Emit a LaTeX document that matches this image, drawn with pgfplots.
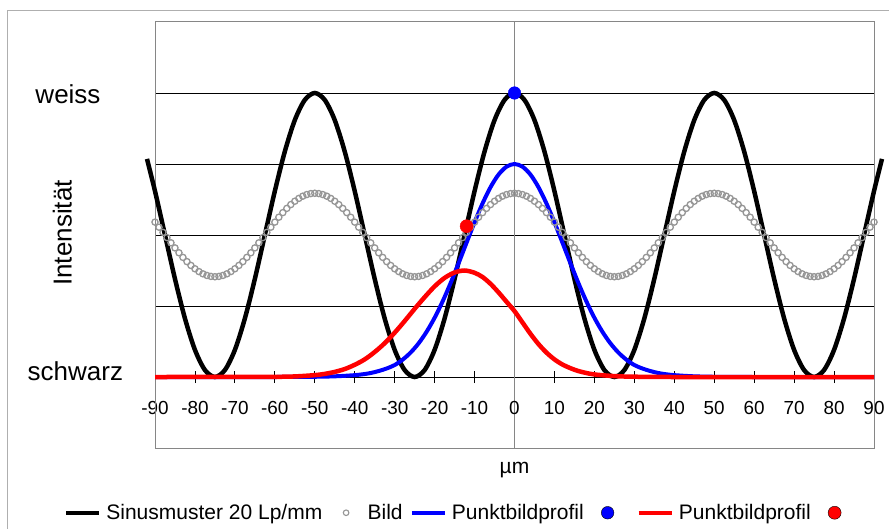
\documentclass[border=0pt]{standalone}
\usepackage{pgfplots}
\pgfplotsset{compat=1.18}
\usepackage{fontspec}
\setmainfont{Liberation Sans}
\definecolor{bildgray}{RGB}{150,150,150}
\definecolor{framegray}{RGB}{134,134,134}
\definecolor{outergray}{RGB}{175,175,175}
\begin{document}
\begin{tikzpicture}
\useasboundingbox (0pt,0pt) rectangle (889pt,528pt);
\fill[white] (0pt,0pt) rectangle (889pt,528pt);
\draw[outergray, line width=1.2pt] (7.5pt,-20pt) rectangle (905pt,517.3pt);
\begin{axis}[
  at={(155pt,80pt)}, anchor=south west,
  scale only axis, width=719pt, height=426pt,
  xmin=-90, xmax=90, ymin=-0.25, ymax=1.25,
  clip=false,
  axis x line=middle, axis y line=middle,
  hide obscured x ticks=false,
  hide obscured y ticks=false,
  x axis line style={black, line width=0.8pt, -},
  y axis line style={framegray, line width=0.9pt, -},
  xtick={-90,-80,-70,-60,-50,-40,-30,-20,-10,0,10,20,30,40,50,60,70,80,90},
  xticklabels={-90,-80,-70,-60,-50,-40,-30,-20,-10,0,10,20,30,40,50,60,70,80,90},
  xticklabel style={font=\fontsize{18.9}{22}\selectfont, inner sep=0pt, anchor=north, yshift=-18pt},
  xtick style={black, line width=0.8pt},
  major tick length=12pt, tick align=center,
  ytick={0.25,0.5,0.75,1},
  yticklabels={},
  ytick style={draw=none},
  ymajorgrids,
  major grid style={black, line width=0.8pt},
  legend columns=6,
  legend style={at={(axis description cs:-0.1270,-0.152)}, anchor=west,
    draw=none, fill=none, inner sep=0pt,
    font=\fontsize{21}{25}\selectfont,
    nodes={inner ysep=2pt, inner xsep=5pt},
    /tikz/every even column/.append style={column sep=2.3pt}},
]
\draw[framegray, line width=1pt] (rel axis cs:0,0) rectangle (rel axis cs:1,1);

% Sinusmuster 20 Lp/mm
\addplot[black, line width=4.5pt, smooth, no markers,
  legend image code/.code={\draw[black, line width=4.5pt] (0pt,0pt) -- (33pt,0pt);}]
coordinates {
(-92,0.7679) (-90,0.6545) (-87.5,0.5) (-85,0.3455) (-82.5,0.2061) (-80,0.0955) (-77.5,0.0245) (-75,0)
(-72.5,0.0245) (-70,0.0955) (-67.5,0.2061) (-65,0.3455) (-62.5,0.5) (-60,0.6545) (-57.5,0.7939) (-55,0.9045) (-52.5,0.9755) (-50,1)
(-47.5,0.9755) (-45,0.9045) (-42.5,0.7939) (-40,0.6545) (-37.5,0.5) (-35,0.3455) (-32.5,0.2061) (-30,0.0955) (-27.5,0.0245) (-25,0)
(-22.5,0.0245) (-20,0.0955) (-17.5,0.2061) (-15,0.3455) (-12.5,0.5) (-10,0.6545) (-7.5,0.7939) (-5,0.9045) (-2.5,0.9755) (0,1)
(2.5,0.9755) (5,0.9045) (7.5,0.7939) (10,0.6545) (12.5,0.5) (15,0.3455) (17.5,0.2061) (20,0.0955) (22.5,0.0245) (25,0)
(27.5,0.0245) (30,0.0955) (32.5,0.2061) (35,0.3455) (37.5,0.5) (40,0.6545) (42.5,0.7939) (45,0.9045) (47.5,0.9755) (50,1)
(52.5,0.9755) (55,0.9045) (57.5,0.7939) (60,0.6545) (62.5,0.5) (65,0.3455) (67.5,0.2061) (70,0.0955) (72.5,0.0245) (75,0)
(77.5,0.0245) (80,0.0955) (82.5,0.2061) (85,0.3455) (87.5,0.5) (90,0.6545) (92,0.7679)
};
\addlegendentry{Sinusmuster 20 Lp/mm}

% Bild
\addplot[only marks, mark=o, mark size=3.1pt, mark options={bildgray, line width=1.3pt},
  legend image code/.code={\path[draw=none, fill=none] (0pt,0pt) -- (33pt,0pt); \path[draw=none, only marks, mark=o, mark size=2.8pt, mark options={draw=bildgray, line width=1.1pt}] plot coordinates {(16.5pt,0pt)};}]
coordinates {
(-90,.5454) (-89,.5275) (-88,.5092) (-87,.4908) (-86,.4725) (-85,.4546) (-84,.4374) (-83,.4212) (-82,.4063) (-81,.3928) (-80,.3811) (-79,.3712) (-78,.3633) (-77,.3576) (-76,.3542) (-75,.353)
(-74,.3542) (-73,.3576) (-72,.3633) (-71,.3712) (-70,.3811) (-69,.3928) (-68,.4063) (-67,.4212) (-66,.4374) (-65,.4546) (-64,.4725) (-63,.4908) (-62,.5092) (-61,.5275) (-60,.5454) (-59,.5626) (-58,.5788) (-57,.5937) (-56,.6072) (-55,.6189) (-54,.6288) (-53,.6367) (-52,.6424) (-51,.6458) (-50,.647)
(-49,.6458) (-48,.6424) (-47,.6367) (-46,.6288) (-45,.6189) (-44,.6072) (-43,.5937) (-42,.5788) (-41,.5626) (-40,.5454) (-39,.5275) (-38,.5092) (-37,.4908) (-36,.4725) (-35,.4546) (-34,.4374) (-33,.4212) (-32,.4063) (-31,.3928) (-30,.3811) (-29,.3712) (-28,.3633) (-27,.3576) (-26,.3542) (-25,.353)
(-24,.3542) (-23,.3576) (-22,.3633) (-21,.3712) (-20,.3811) (-19,.3928) (-18,.4063) (-17,.4212) (-16,.4374) (-15,.4546) (-14,.4725) (-13,.4908) (-12,.5092) (-11,.5275) (-10,.5454) (-9,.5626) (-8,.5788) (-7,.5937) (-6,.6072) (-5,.6189) (-4,.6288) (-3,.6367) (-2,.6424) (-1,.6458) (0,.647)
(1,.6458) (2,.6424) (3,.6367) (4,.6288) (5,.6189) (6,.6072) (7,.5937) (8,.5788) (9,.5626) (10,.5454) (11,.5275) (12,.5092) (13,.4908) (14,.4725) (15,.4546) (16,.4374) (17,.4212) (18,.4063) (19,.3928) (20,.3811) (21,.3712) (22,.3633) (23,.3576) (24,.3542) (25,.353)
(26,.3542) (27,.3576) (28,.3633) (29,.3712) (30,.3811) (31,.3928) (32,.4063) (33,.4212) (34,.4374) (35,.4546) (36,.4725) (37,.4908) (38,.5092) (39,.5275) (40,.5454) (41,.5626) (42,.5788) (43,.5937) (44,.6072) (45,.6189) (46,.6288) (47,.6367) (48,.6424) (49,.6458) (50,.647)
(51,.6458) (52,.6424) (53,.6367) (54,.6288) (55,.6189) (56,.6072) (57,.5937) (58,.5788) (59,.5626) (60,.5454) (61,.5275) (62,.5092) (63,.4908) (64,.4725) (65,.4546) (66,.4374) (67,.4212) (68,.4063) (69,.3928) (70,.3811) (71,.3712) (72,.3633) (73,.3576) (74,.3542) (75,.353)
(76,.3542) (77,.3576) (78,.3633) (79,.3712) (80,.3811) (81,.3928) (82,.4063) (83,.4212) (84,.4374) (85,.4546) (86,.4725) (87,.4908) (88,.5092) (89,.5275) (90,.5454)
};
\addlegendentry{Bild}

% Punktbildprofil (blau)
\addplot[blue, line width=4pt, smooth, no markers,
  legend image code/.code={\draw[blue, line width=4pt] (0pt,0pt) -- (33pt,0pt);}]
coordinates {
(-90,0) (-60,0) (-54,0.0003) (-48,0.0012) (-44,0.003) (-40,0.0065) (-38,0.0095) (-36,0.014) (-34,0.021) (-32,0.030)
(-30,0.0421) (-28,0.0611) (-26,0.0862) (-24,0.1187) (-22,0.1594) (-20,0.2085) (-18,0.2660) (-16,0.3306) (-14,0.4006)
(-12,0.4731) (-10,0.5446) (-8,0.6111) (-6,0.6684) (-4,0.7126) (-2,0.7405) (0,0.75)
(2,0.7405) (4,0.7126) (6,0.6684) (8,0.6111) (10,0.5446) (12,0.4731) (14,0.4006) (16,0.3306) (18,0.2660) (20,0.2085)
(22,0.1594) (24,0.1187) (26,0.0862) (28,0.0611) (30,0.0421) (32,0.030) (34,0.021) (36,0.014) (38,0.0095) (40,0.0065)
(44,0.003) (48,0.0012) (54,0.0003) (60,0) (90,0)
};
\addlegendentry{Punktbildprofil}

\addplot[only marks, mark=*, mark size=6.3pt, mark options={blue, draw=none},
  legend image code/.code={\path[draw=none, fill=none] (0pt,0pt) -- (33pt,0pt); \path[draw=none, only marks, mark=*, mark size=6.3pt, mark options={fill=blue, draw=none}] plot coordinates {(16.5pt,0pt)};}]
coordinates {(0,1)};
\addlegendentry{}

% Punktbildprofil (rot)
\addplot[red, line width=4.5pt, smooth, no markers,
  legend image code/.code={\draw[red, line width=4.5pt] (0pt,0pt) -- (33pt,0pt);}]
coordinates {
(-90,0) (-70,0.0001) (-60,0.0006) (-55,0.002) (-50,0.0066) (-47.5,0.011) (-45,0.018) (-42.5,0.028) (-40,0.043)
(-37.5,0.062) (-35,0.088) (-32.5,0.119) (-30,0.156) (-27.5,0.197) (-25,0.240) (-22.5,0.281) (-20,0.319)
(-17.5,0.349) (-15,0.368) (-12.5,0.375) (-10,0.367) (-8,0.352) (-6,0.328) (-4,0.298) (-2,0.265) (0,0.232)
(2,0.192) (4,0.152) (6,0.116) (8,0.086) (10,0.062) (12,0.044) (14,0.031) (16,0.021) (18,0.014) (20,0.009)
(24,0.004) (28,0.0015) (35,0.0003) (40,0) (90,0)
};
\addlegendentry{Punktbildprofil}

\addplot[only marks, mark=*, mark size=6.5pt, mark options={red, draw=none},
  legend image code/.code={\path[draw=none, fill=none] (0pt,0pt) -- (33pt,0pt); \path[draw=none, only marks, mark=*, mark size=6.5pt, mark options={fill=red, draw=none}] plot coordinates {(16.5pt,0pt)};}]
coordinates {(-12,0.531)};
\addlegendentry{}
\end{axis}
\node[font=\fontsize{26}{30}\selectfont, inner sep=0pt, anchor=base east] at (100.7pt,424pt) {weiss};
\node[font=\fontsize{26}{30}\selectfont, inner sep=0pt, anchor=base east] at (123.3pt,147.3pt) {schwarz};
\node[font=\fontsize{26}{30}\selectfont, inner sep=0pt, rotate=90, anchor=base] at (71.7pt,295pt) {Intensität};
\node[font=\fontsize{21}{25}\selectfont, inner sep=0pt, anchor=base] at (514.5pt,55pt) {µm};
\end{tikzpicture}
\end{document}
